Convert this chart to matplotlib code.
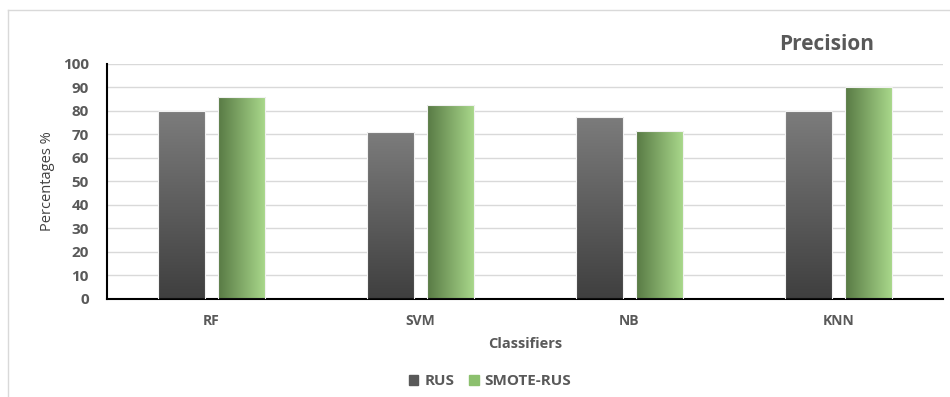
import matplotlib.pyplot as plt
import numpy as np
from matplotlib.colors import LinearSegmentedColormap
from matplotlib.lines import Line2D
from matplotlib.patches import Patch

plt.rcParams['font.family'] = ['Open Sans', 'DejaVu Sans']

classifiers = ['RF', 'SVM', 'NB', 'KNN']
rus = [80, 71, 77.5, 80]
smote_rus = [86, 82.5, 71.5, 90]
yticks = list(range(0, 101, 10))

txt = '#595959'
gray_cm = LinearSegmentedColormap.from_list('g', ['#3f3f3f', '#7c7c7c'])
green_cm = LinearSegmentedColormap.from_list('gr', ['#587a44', '#aad98c'])

fig = plt.figure(figsize=(9.5, 3.97), dpi=100)
ax = fig.add_axes([0.1126, 0.2469, 0.880, 0.5919])

x = np.arange(len(classifiers))
w = 0.225
off = 0.1435

def grad_bars(xs, vals, cmap, vertical):
    bars = ax.bar(xs, vals, w, color='none', edgecolor='#f2f2f2', lw=0.8, zorder=3)
    for b in bars:
        x0, y0 = b.get_x(), b.get_y()
        x1, y1 = x0 + b.get_width(), y0 + b.get_height()
        if vertical:
            g = np.linspace(0, 1, 256).reshape(-1, 1)
        else:
            g = np.linspace(0, 1, 256).reshape(1, -1)
        im = ax.imshow(g, cmap=cmap, origin='lower', aspect='auto',
                       extent=(x0, x1, y0, y1), zorder=2)
        im.set_clip_path(b)
    return bars

grad_bars(x - off, rus, gray_cm, True)
grad_bars(x + off, smote_rus, green_cm, False)

ax.set_xlim(-0.5, 3.5)
ax.set_ylim(0, 100)
ax.set_yticks(yticks)
ax.set_xticks(x)
ax.set_xticklabels(classifiers)
ax.grid(axis='y', color='#d9d9d9', lw=1, zorder=0)
ax.set_axisbelow(True)
for s in ['top', 'right']:
    ax.spines[s].set_visible(False)
ax.spines['left'].set_color('black')
ax.spines['left'].set_linewidth(1.5)
ax.spines['bottom'].set_color('black')
ax.spines['bottom'].set_linewidth(1.5)
ax.tick_params(length=0)
ax.tick_params(axis='y', pad=13, labelsize=11, labelcolor=txt)
ax.tick_params(axis='x', pad=11, labelsize=10, labelcolor=txt)
for t in ax.get_yticklabels() + ax.get_xticklabels():
    t.set_fontweight('bold')

ax.set_ylabel('Percentages %', fontsize=10.5, color='#404040', labelpad=6)
ax.set_xlabel('Classifiers', fontsize=10.5, color=txt, fontweight='bold', labelpad=6)

fig.text(0.87, 0.888, 'Precision', fontsize=15, fontweight='bold', color=txt,
         ha='center', va='center')

handles = [Patch(color='#595959', label='RUS'), Patch(color='#8cc06e', label='SMOTE-RUS')]
leg = fig.legend(handles=handles, loc='center', bbox_to_anchor=(0.516, 0.04), ncol=2,
                 frameon=False, fontsize=11, handlelength=0.6, handleheight=0.6,
                 handletextpad=0.4, columnspacing=1.0)
for t in leg.get_texts():
    t.set_color(txt)
    t.set_fontweight('bold')

# light outer frame
fig.add_artist(Line2D([0.0085, 0.0085], [0, 0.975], color='#d9d9d9', lw=1))
fig.add_artist(Line2D([0.0085, 1], [0.975, 0.975], color='#d9d9d9', lw=1))

fig.savefig('out.png', dpi=100)
